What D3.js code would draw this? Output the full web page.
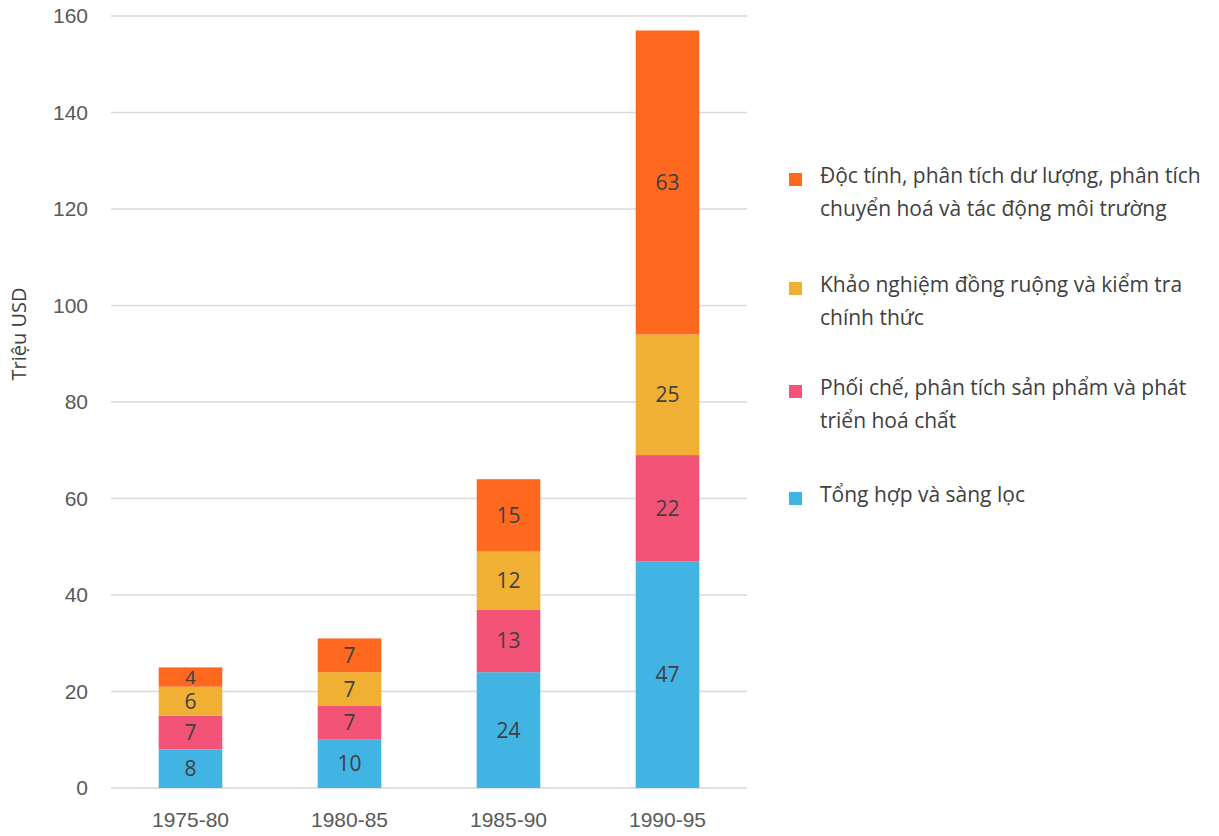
<!DOCTYPE html>
<html>
<head>
<meta charset="utf-8">
<script src="https://cdn.jsdelivr.net/npm/d3@7"></script>
<style>
  html, body { margin: 0; padding: 0; background: #fff; }
  svg { display: block; font-family: "Open Sans", "Noto Sans", sans-serif; }
</style>
</head>
<body>
<svg id="chart" width="1219" height="836"></svg>
<script>
// Research & development spending by stage (million USD)
const periods = ["1975-80", "1980-85", "1985-90", "1990-95"];
const synthesis   = [8, 10, 24, 47];   // Tổng hợp và sàng lọc
const formulation = [7, 7, 13, 22];    // Phối chế, phân tích sản phẩm...
const fieldTrials = [6, 7, 12, 25];    // Khảo nghiệm đồng ruộng...
const toxicology  = [4, 7, 15, 63];    // Độc tính, phân tích dư lượng...
const yTicks = [0, 20, 40, 60, 80, 100, 120, 140, 160];
const yTitle = "Triệu USD";

const series = [
  { key: "synthesis",   values: synthesis,   color: "#41B4E4",
    label: ["Tổng hợp và sàng lọc"] },
  { key: "formulation", values: formulation, color: "#F35377",
    label: ["Phối chế, phân tích sản phẩm và phát", "triển hoá chất"] },
  { key: "fieldTrials", values: fieldTrials, color: "#EFB034",
    label: ["Khảo nghiệm đồng ruộng và kiểm tra", "chính thức"] },
  { key: "toxicology",  values: toxicology,  color: "#FF681F",
    label: ["Độc tính, phân tích dư lượng, phân tích", "chuyển hoá và tác động môi trường"] }
];

const svg = d3.select("#chart");
const plot = { left: 111, right: 747, top: 16, bottom: 788 };

const x = d3.scaleBand()
  .domain(periods)
  .range([plot.left, plot.right])
  .paddingInner(0.6)
  .paddingOuter(0.3);

const y = d3.scaleLinear()
  .domain([0, 160])
  .range([plot.bottom, plot.top]);

// gridlines
svg.append("g")
  .selectAll("line")
  .data(yTicks)
  .join("line")
  .attr("x1", plot.left)
  .attr("x2", plot.right)
  .attr("y1", d => y(d))
  .attr("y2", d => y(d))
  .attr("stroke", "#d9d9d9")
  .attr("stroke-width", 1.5);

// y axis labels
const yAxis = svg.append("g")
  .attr("transform", `translate(${plot.left - 12},0)`)
  .call(d3.axisLeft(y).tickValues(yTicks).tickSize(0).tickPadding(11));
yAxis.select(".domain").remove();
yAxis.selectAll("text")
  .attr("fill", "#595959")
  .style("font-size", "21px");

// x axis labels
const xAxis = svg.append("g")
  .attr("transform", `translate(0,${plot.bottom})`)
  .call(d3.axisBottom(x).tickSize(0).tickPadding(24));
xAxis.select(".domain").remove();
xAxis.selectAll("text")
  .attr("fill", "#595959")
  .style("font-size", "21px");

// y axis title
svg.append("text")
  .attr("transform", `translate(26,${(plot.top + plot.bottom) / 2 - 68}) rotate(-90)`)
  .attr("text-anchor", "middle")
  .attr("fill", "#404040")
  .style("font-size", "20px")
  .text(yTitle);

// stacked bars
const rows = periods.map((p, i) => {
  const r = { period: p };
  series.forEach(s => { r[s.key] = s.values[i]; });
  return r;
});
const stacked = d3.stack().keys(series.map(s => s.key))(rows);

const layers = svg.append("g")
  .selectAll("g")
  .data(stacked)
  .join("g")
  .attr("fill", (d, i) => series[i].color);

layers.selectAll("rect")
  .data(d => d)
  .join("rect")
  .attr("x", d => x(d.data.period))
  .attr("width", x.bandwidth())
  .attr("y", d => y(d[1]))
  .attr("height", d => y(d[0]) - y(d[1]));

// value labels; thin segments get a slightly smaller font
layers.selectAll("text")
  .data(d => d.map(v => ({ v, key: d.key })))
  .join("text")
  .attr("x", d => x(d.v.data.period) + x.bandwidth() / 2)
  .attr("y", d => (y(d.v[0]) + y(d.v[1])) / 2)
  .attr("dy", "0.36em")
  .attr("text-anchor", "middle")
  .attr("fill", "#404040")
  .style("font-size", d => (y(d.v[0]) - y(d.v[1]) < 25 ? "19px" : "21px"))
  .text(d => d.v.data[d.key]);

// legend (top item is the top of the stack)
const legendItems = series.slice().reverse();
const legendY = [183, 292, 395, 502];
const legend = svg.append("g")
  .selectAll("g")
  .data(legendItems)
  .join("g")
  .attr("transform", (d, i) => `translate(789,${legendY[i]})`);

legend.append("rect")
  .attr("x", 0)
  .attr("y", -10)
  .attr("width", 13)
  .attr("height", 13)
  .attr("fill", d => d.color);

legend.append("text")
  .attr("fill", "#404040")
  .style("font-size", "21px")
  .selectAll("tspan")
  .data(d => d.label)
  .join("tspan")
  .attr("x", 31)
  .attr("y", (d, i) => i * 33)
  .text(d => d);
</script>
</body>
</html>
